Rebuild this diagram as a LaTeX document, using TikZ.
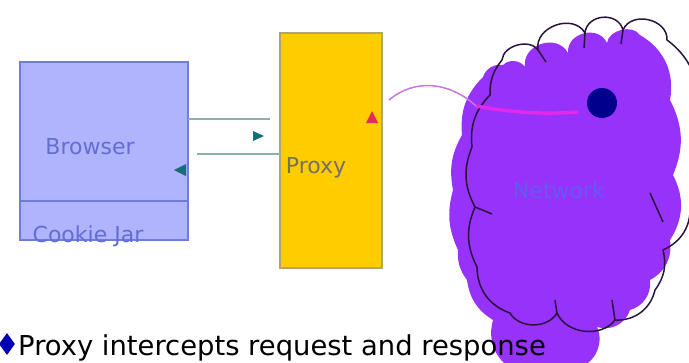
\documentclass[tikz,border=0pt]{standalone}
\usepackage{fontspec}
\setmainfont{DejaVu Sans}
\usetikzlibrary{shapes.geometric}
\definecolor{brfill}{RGB}{176,180,252}
\definecolor{brdraw}{RGB}{110,125,215}
\definecolor{brtext}{RGB}{100,110,210}
\definecolor{pxfill}{RGB}{255,204,0}
\definecolor{pxdraw}{RGB}{175,165,110}
\definecolor{pxtext}{RGB}{120,110,100}
\definecolor{linecol}{RGB}{140,175,170}
\definecolor{tipcol}{RGB}{20,110,120}
\definecolor{redtip}{RGB}{230,40,90}
\definecolor{cloudfill}{RGB}{150,50,250}
\definecolor{cloudline}{RGB}{40,20,60}
\definecolor{nettext}{RGB}{100,90,240}
\definecolor{curvecol}{RGB}{200,120,220}
\definecolor{curvein}{RGB}{225,40,235}
\definecolor{dotcol}{RGB}{0,0,140}
\definecolor{bullet}{RGB}{0,0,180}
\tikzset{
  boxlabel/.style={font=\fontsize{22}{24}\selectfont, inner sep=0pt},
  conn/.style={draw=linecol, line width=2pt},
  b/.style={bend left=#1},
}
\begin{document}
\begin{tikzpicture}[x=1pt,y=-1pt]
\useasboundingbox (0,0) rectangle (689,362);
% browser
\node[draw=brdraw, fill=brfill, line width=2pt, minimum width=168pt, minimum height=178pt, inner sep=0pt] (browser) at (103.5,151) {};
\draw[brdraw, line width=2pt] (20,201) -- (187,201);
\node[boxlabel, text=brtext] (brlabel) at (90,147) {Browser};
\node[boxlabel, text=brtext, anchor=base] (cookie) at (88,242) {Cookie Jar};
% proxy
\node[draw=pxdraw, fill=pxfill, line width=2pt, minimum width=102pt, minimum height=235pt, inner sep=0pt] (proxy) at (331,150.5) {};
\node[boxlabel, text=pxtext] (pxlabel) at (316,168) {Proxy};
% connectors
\coordinate (u1) at (188,119);
\coordinate (u2) at (270,119);
\coordinate (l1) at (197,154);
\coordinate (l2) at (281,154);
\draw[conn] (u1) -- (u2);
\draw[conn] (l1) -- (l2);
\fill[tipcol] (264,136) -- (253,131) -- (253,141) -- cycle;
\fill[tipcol] (174,170) -- (186,164) -- (186,176) -- cycle;
\fill[redtip] (372,111) -- (366,123) -- (378,123) -- cycle;
% purple cloud
\fill[cloudfill] (503,65) to[b=50] (525,67) to[b=80, looseness=1.3] (568,53) to[b=80, looseness=1.3] (607,43)
  to[b=70] (640,35) to[b=35] (670,100) to[b=25] (673,175) to[b=30] (670,240)
  to[b=35] (650,280) to[b=40] (630,310) to[b=45] (597,327) to[b=50] (578,368) -- (510,368)
  to[b=35] (493,320) to[b=25] (467,280) to[b=20] (458,250) to[b=20] (453,190)
  to[b=20] (462,135) to[b=25] (483,77) to[b=40] cycle;
% black outline cloud
\draw[cloudline, line width=1.5pt, line join=round] (502,60) to[b=70] (538,50) to[b=80, looseness=1.2] (585,33)
  to[b=80, looseness=1.3] (623,30) to[b=80, looseness=1.2] (667,40) to[b=35] (694,120)
  to[b=20] (690,205) to[b=35] (663,250) to[b=25] (655,290) to[b=40] (615,320)
  to[b=60] (557,313) to[b=60] (510,313) to[b=35] (477,267) to[b=25] (475,207)
  to[b=25] (472,147) to[b=25] (490,95) to[b=20] cycle;
\draw[cloudline, line width=1.5pt] (538,50) -- (546,62) (585,33) -- (584,48) (623,30) -- (621,44)
  (475,207) -- (492,214) (650,193) -- (663,222) (557,313) -- (555,300) (615,320) -- (612,300);
\node[font=\fontsize{22}{24}\selectfont, text=nettext, inner sep=0pt] (net) at (559,190) {Network};
% curve
\node[circle, fill=dotcol, minimum size=30pt, inner sep=0pt] (dot) at (602,103) {};
\coordinate (c0) at (389,100);
\coordinate (c1) at (476,106);
\coordinate (c2) at (578,112);
\draw[curvecol, line width=1.5pt] (c0) .. controls (415,78) and (450,82) .. (c1);
\draw[curvein, line width=3.5pt] (c1) .. controls (520,114) and (550,114) .. (c2);
% bottom text
\node[diamond, fill=bullet, inner sep=0pt, minimum width=16pt, minimum height=22pt] (bul) at (7,344) {};
\node[anchor=base west, inner sep=0pt, font=\fontsize{27.4}{30}\selectfont] (caption) at (18,355.3) {Proxy intercepts request and response};
\end{tikzpicture}
\end{document}
